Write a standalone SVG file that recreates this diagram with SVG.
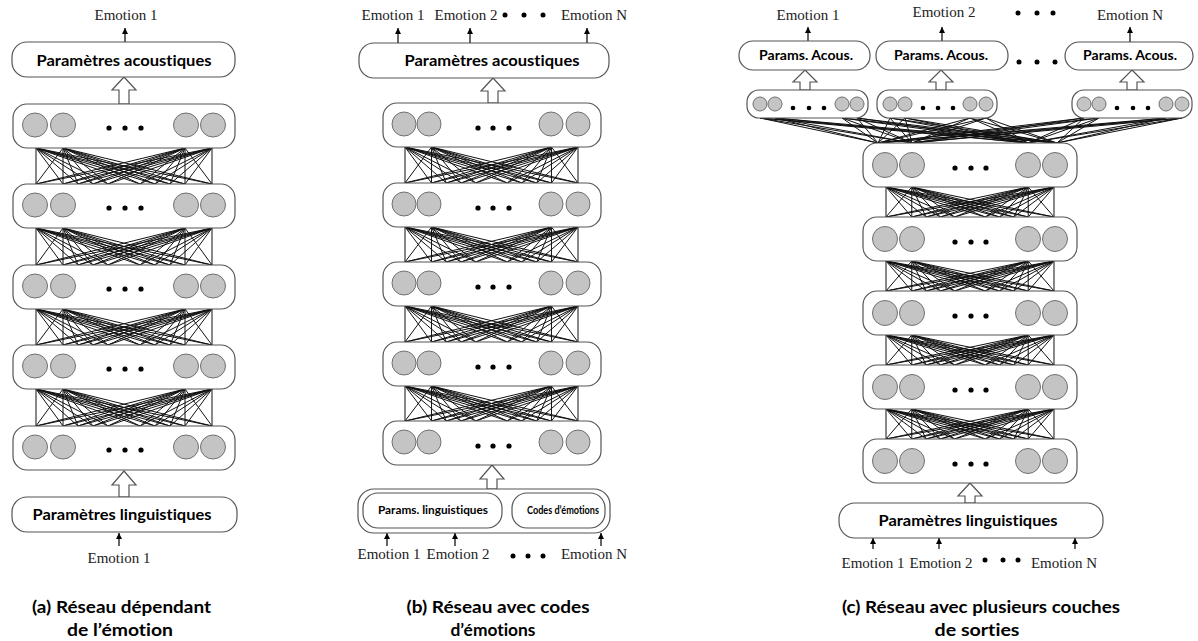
<svg xmlns="http://www.w3.org/2000/svg" width="1198" height="641" viewBox="0 0 1198 641">
<defs>
<style>
.box{fill:#fff;stroke:#555;stroke-width:1.2}
.n{fill:#c4c4c4;stroke:#707070;stroke-width:1}
.d{fill:#000}
.lbl{font-family:Lato,"Open Sans","Liberation Sans",sans-serif;font-weight:bold;fill:#000;text-anchor:middle;font-variant-ligatures:none;font-feature-settings:"liga" 0,"dlig" 0}
.em{font-family:"Liberation Serif","Times New Roman",serif;font-size:15px;fill:#222;text-anchor:middle}
.cap{font-family:Lato,"Open Sans","Liberation Sans",sans-serif;font-weight:bold;font-size:17px;text-anchor:middle;fill:#000;font-variant-ligatures:none;font-feature-settings:"liga" 0,"dlig" 0}
.mesh{fill:none;stroke:#111;stroke-width:1;vector-effect:non-scaling-stroke}
.ar{stroke:#000;stroke-width:1.2;marker-end:url(#ah)}
.ha{fill:#fff;stroke:#555;stroke-width:1.2}
</style>
<marker id="ah" markerUnits="userSpaceOnUse" markerWidth="7" markerHeight="7" refX="6" refY="3" orient="auto"><path d="M0,0 L6,3 L0,6 z" fill="#000"/></marker>
<path id="mesh" class="mesh" d="M0 0L0 36M0 0L27 36M0 0L42 36M0 0L57 36M0 0L72 36M0 0L104 36M0 0L119 36M0 0L134 36M0 0L149 36M0 0L176 36M27 0L0 36M27 0L27 36M27 0L42 36M27 0L57 36M27 0L72 36M27 0L104 36M27 0L119 36M27 0L134 36M27 0L149 36M27 0L176 36M149 0L0 36M149 0L27 36M149 0L42 36M149 0L57 36M149 0L72 36M149 0L104 36M149 0L119 36M149 0L134 36M149 0L149 36M149 0L176 36M176 0L0 36M176 0L27 36M176 0L42 36M176 0L57 36M176 0L72 36M176 0L104 36M176 0L119 36M176 0L134 36M176 0L149 36M176 0L176 36"/>
</defs>
<rect width="1198" height="641" fill="#fff"/>

<g id="connectors">
  <!-- panel a -->
  <use href="#mesh" transform="translate(36,148) scale(1,1)"/>
  <use href="#mesh" transform="translate(36,228) scale(1,1.028)"/>
  <use href="#mesh" transform="translate(36,309) scale(1,1)"/>
  <use href="#mesh" transform="translate(36,389) scale(1,1.028)"/>
  <line class="ar" x1="125" y1="42" x2="125" y2="28"/>
  <line class="ar" x1="119" y1="546" x2="119" y2="533"/>
  <polygon class="ha" points="124,77 136,90 129,90 129,104 119,104 119,90 112,90"/>
  <polygon class="ha" points="124,471 136,485 129,485 129,497 119,497 119,485 112,485"/>
  <!-- panel b -->
  <use href="#mesh" transform="translate(405,147) scale(0.983,1)"/>
  <use href="#mesh" transform="translate(405,227) scale(0.983,0.972)"/>
  <use href="#mesh" transform="translate(405,306) scale(0.983,1)"/>
  <use href="#mesh" transform="translate(405,386) scale(0.983,0.972)"/>
  <line class="ar" x1="398" y1="43" x2="398" y2="28"/>
  <line class="ar" x1="470" y1="43" x2="470" y2="28"/>
  <line class="ar" x1="587" y1="43" x2="587" y2="28"/>
  <line class="ar" x1="387" y1="546" x2="387" y2="533"/>
  <line class="ar" x1="455" y1="546" x2="455" y2="533"/>
  <line class="ar" x1="601" y1="546" x2="601" y2="533"/>
  <polygon class="ha" points="493,78 505,91 498,91 498,103 488,103 488,91 481,91"/>
  <polygon class="ha" points="492,465 504,479 497,479 497,489 487,489 487,479 480,479"/>
  <!-- panel c -->
  <use href="#mesh" transform="translate(886,187) scale(0.9545,0.833)"/>
  <use href="#mesh" transform="translate(886,261) scale(0.9545,0.833)"/>
  <use href="#mesh" transform="translate(886,335) scale(0.9545,0.833)"/>
  <use href="#mesh" transform="translate(886,409) scale(0.9545,0.833)"/>
  <path class="mesh" d="M760 118L878 143M760 118L912 143M760 118L1028 143M760 118L1057 143M775 118L878 143M775 118L912 143M775 118L1028 143M775 118L1057 143M842 118L878 143M842 118L912 143M842 118L1028 143M842 118L1057 143M857 118L878 143M857 118L912 143M857 118L1028 143M857 118L1057 143M890 118L878 143M890 118L912 143M890 118L1028 143M890 118L1057 143M905 118L878 143M905 118L912 143M905 118L1028 143M905 118L1057 143M970 118L878 143M970 118L912 143M970 118L1028 143M970 118L1057 143M986 118L878 143M986 118L912 143M986 118L1028 143M986 118L1057 143M1084 118L878 143M1084 118L912 143M1084 118L1028 143M1084 118L1057 143M1099 118L878 143M1099 118L912 143M1099 118L1028 143M1099 118L1057 143M1166 118L878 143M1166 118L912 143M1166 118L1028 143M1166 118L1057 143M1182 118L878 143M1182 118L912 143M1182 118L1028 143M1182 118L1057 143"/>
  <line class="ar" x1="808" y1="41" x2="808" y2="27"/>
  <line class="ar" x1="942" y1="41" x2="942" y2="27"/>
  <line class="ar" x1="1130" y1="42" x2="1130" y2="27"/>
  <line class="ar" x1="873" y1="549" x2="873" y2="538"/>
  <line class="ar" x1="939" y1="549" x2="939" y2="538"/>
  <line class="ar" x1="1075" y1="549" x2="1075" y2="538"/>
  <polygon class="ha" points="805,70 817,82 810,82 810,90 800,90 800,82 793,82"/>
  <polygon class="ha" points="941,70 953,82 946,82 946,90 936,90 936,82 929,82"/>
  <polygon class="ha" points="1132,70 1144,82 1137,82 1137,90 1127,90 1127,82 1120,82"/>
  <polygon class="ha" points="970,483 982,496 975,496 975,503 965,503 965,496 958,496"/>
</g>

<!-- ===== Panel (a) ===== -->
<g id="a-out-label"><text class="em" x="126" y="20">Emotion 1</text></g>
<g id="a-acoustic"><rect class="box" x="12" y="42" width="223" height="35" rx="15"/><text class="lbl" x="124" y="66" font-size="16" textLength="175" lengthAdjust="spacingAndGlyphs">Paramètres acoustiques</text></g>
<g id="a-layer1"><rect class="box" x="13" y="104" width="222" height="44" rx="14"/><ellipse class="n" cx="35" cy="125" rx="12.5" ry="12"/><ellipse class="n" cx="63" cy="125" rx="12.5" ry="12"/><ellipse class="n" cx="186" cy="125" rx="12.5" ry="12"/><ellipse class="n" cx="213" cy="125" rx="12.5" ry="12"/><circle class="d" cx="109" cy="128" r="2.6"/><circle class="d" cx="125" cy="128" r="2.6"/><circle class="d" cx="141" cy="128" r="2.6"/></g>
<g id="a-layer2"><rect class="box" x="13" y="184" width="222" height="44" rx="14"/><ellipse class="n" cx="35" cy="205" rx="12.5" ry="12"/><ellipse class="n" cx="63" cy="205" rx="12.5" ry="12"/><ellipse class="n" cx="186" cy="205" rx="12.5" ry="12"/><ellipse class="n" cx="213" cy="205" rx="12.5" ry="12"/><circle class="d" cx="109" cy="208" r="2.6"/><circle class="d" cx="125" cy="208" r="2.6"/><circle class="d" cx="141" cy="208" r="2.6"/></g>
<g id="a-layer3"><rect class="box" x="13" y="265" width="222" height="44" rx="14"/><ellipse class="n" cx="35" cy="286" rx="12.5" ry="12"/><ellipse class="n" cx="63" cy="286" rx="12.5" ry="12"/><ellipse class="n" cx="186" cy="286" rx="12.5" ry="12"/><ellipse class="n" cx="213" cy="286" rx="12.5" ry="12"/><circle class="d" cx="109" cy="289" r="2.6"/><circle class="d" cx="125" cy="289" r="2.6"/><circle class="d" cx="141" cy="289" r="2.6"/></g>
<g id="a-layer4"><rect class="box" x="13" y="345" width="222" height="44" rx="14"/><ellipse class="n" cx="35" cy="366" rx="12.5" ry="12"/><ellipse class="n" cx="63" cy="366" rx="12.5" ry="12"/><ellipse class="n" cx="186" cy="366" rx="12.5" ry="12"/><ellipse class="n" cx="213" cy="366" rx="12.5" ry="12"/><circle class="d" cx="109" cy="369" r="2.6"/><circle class="d" cx="125" cy="369" r="2.6"/><circle class="d" cx="141" cy="369" r="2.6"/></g>
<g id="a-layer5"><rect class="box" x="13" y="426" width="222" height="44" rx="14"/><ellipse class="n" cx="35" cy="447" rx="12.5" ry="12"/><ellipse class="n" cx="63" cy="447" rx="12.5" ry="12"/><ellipse class="n" cx="186" cy="447" rx="12.5" ry="12"/><ellipse class="n" cx="213" cy="447" rx="12.5" ry="12"/><circle class="d" cx="109" cy="450" r="2.6"/><circle class="d" cx="125" cy="450" r="2.6"/><circle class="d" cx="141" cy="450" r="2.6"/></g>
<g id="a-linguistic"><rect class="box" x="12" y="497" width="225" height="35" rx="15"/><text class="lbl" x="122" y="520" font-size="16" textLength="179" lengthAdjust="spacingAndGlyphs">Paramètres linguistiques</text></g>
<g id="a-in-label"><text class="em" x="119" y="563">Emotion 1</text></g>
<g id="a-caption"><text class="cap" x="121.5" y="613" textLength="179" lengthAdjust="spacingAndGlyphs">(a) Réseau dépendant</text><text class="cap" x="120" y="636" textLength="106" lengthAdjust="spacingAndGlyphs">de l’émotion</text></g>

<!-- ===== Panel (b) ===== -->
<g id="b-out-labels"><text class="em" x="393" y="20">Emotion 1</text><text class="em" x="466" y="20">Emotion 2</text><circle class="d" cx="505" cy="15" r="2.5"/><circle class="d" cx="524" cy="15" r="2.5"/><circle class="d" cx="543" cy="15" r="2.5"/><text class="em" x="594" y="20">Emotion N</text></g>
<g id="b-acoustic"><rect class="box" x="359" y="43" width="250" height="35" rx="15"/><text class="lbl" x="492" y="66" font-size="16" textLength="175" lengthAdjust="spacingAndGlyphs">Paramètres acoustiques</text></g>
<g id="b-layer1"><rect class="box" x="383" y="103" width="218" height="44" rx="14"/><circle class="n" cx="404" cy="124" r="12"/><circle class="n" cx="429" cy="124" r="12"/><circle class="n" cx="551" cy="124" r="12"/><circle class="n" cx="578" cy="124" r="12"/><circle class="d" cx="478" cy="128" r="2.6"/><circle class="d" cx="493" cy="128" r="2.6"/><circle class="d" cx="509" cy="128" r="2.6"/></g>
<g id="b-layer2"><rect class="box" x="383" y="183" width="218" height="44" rx="14"/><circle class="n" cx="404" cy="204" r="12"/><circle class="n" cx="429" cy="204" r="12"/><circle class="n" cx="551" cy="204" r="12"/><circle class="n" cx="578" cy="204" r="12"/><circle class="d" cx="478" cy="208" r="2.6"/><circle class="d" cx="493" cy="208" r="2.6"/><circle class="d" cx="509" cy="208" r="2.6"/></g>
<g id="b-layer3"><rect class="box" x="383" y="262" width="218" height="44" rx="14"/><circle class="n" cx="404" cy="283" r="12"/><circle class="n" cx="429" cy="283" r="12"/><circle class="n" cx="551" cy="283" r="12"/><circle class="n" cx="578" cy="283" r="12"/><circle class="d" cx="478" cy="287" r="2.6"/><circle class="d" cx="493" cy="287" r="2.6"/><circle class="d" cx="509" cy="287" r="2.6"/></g>
<g id="b-layer4"><rect class="box" x="383" y="342" width="218" height="44" rx="14"/><circle class="n" cx="404" cy="363" r="12"/><circle class="n" cx="429" cy="363" r="12"/><circle class="n" cx="551" cy="363" r="12"/><circle class="n" cx="578" cy="363" r="12"/><circle class="d" cx="478" cy="367" r="2.6"/><circle class="d" cx="493" cy="367" r="2.6"/><circle class="d" cx="509" cy="367" r="2.6"/></g>
<g id="b-layer5"><rect class="box" x="383" y="421" width="218" height="44" rx="14"/><circle class="n" cx="404" cy="442" r="12"/><circle class="n" cx="429" cy="442" r="12"/><circle class="n" cx="551" cy="442" r="12"/><circle class="n" cx="578" cy="442" r="12"/><circle class="d" cx="478" cy="446" r="2.6"/><circle class="d" cx="493" cy="446" r="2.6"/><circle class="d" cx="509" cy="446" r="2.6"/></g>
<g id="b-input"><rect class="box" x="358" y="489" width="252" height="44" rx="16"/></g>
<g id="b-linguistic"><rect class="box" x="363" y="493" width="139" height="35" rx="15"/><text class="lbl" x="433" y="514" font-size="12" textLength="110" lengthAdjust="spacingAndGlyphs">Params. linguistiques</text></g>
<g id="b-codes"><rect class="box" x="512" y="493" width="93" height="35" rx="15"/><text class="lbl" x="563" y="514" font-size="11.5" textLength="72" lengthAdjust="spacingAndGlyphs">Codes d’émotions</text></g>
<g id="b-in-labels"><text class="em" x="389" y="559">Emotion 1</text><text class="em" x="458" y="559">Emotion 2</text><circle class="d" cx="513" cy="556" r="2.5"/><circle class="d" cx="528" cy="556" r="2.5"/><circle class="d" cx="543" cy="556" r="2.5"/><text class="em" x="594" y="559">Emotion N</text></g>
<g id="b-caption"><text class="cap" x="498" y="613" textLength="183" lengthAdjust="spacingAndGlyphs">(b) Réseau avec codes</text><text class="cap" x="493" y="636" textLength="85" lengthAdjust="spacingAndGlyphs">d’émotions</text></g>

<!-- ===== Panel (c) ===== -->
<g id="c-out-labels"><text class="em" x="808" y="20">Emotion 1</text><text class="em" x="944" y="17">Emotion 2</text><circle class="d" cx="1018" cy="13" r="2.5"/><circle class="d" cx="1037" cy="13" r="2.5"/><circle class="d" cx="1053" cy="13" r="2.5"/><text class="em" x="1130" y="20">Emotion N</text></g>
<g id="c-acoustic1"><rect class="box" x="739" y="41" width="131" height="29" rx="14"/><text class="lbl" x="806" y="60" font-size="14" textLength="94" lengthAdjust="spacingAndGlyphs">Params. Acous.</text></g>
<g id="c-acoustic2"><rect class="box" x="876" y="41" width="132" height="29" rx="14"/><text class="lbl" x="941" y="60" font-size="14" textLength="94" lengthAdjust="spacingAndGlyphs">Params. Acous.</text></g>
<g id="c-dots-mid"><circle class="d" cx="1019" cy="62" r="2.5"/><circle class="d" cx="1037" cy="62" r="2.5"/><circle class="d" cx="1055" cy="62" r="2.5"/></g>
<g id="c-acoustic3"><rect class="box" x="1065" y="42" width="128" height="28" rx="14"/><text class="lbl" x="1130" y="60" font-size="14" textLength="94" lengthAdjust="spacingAndGlyphs">Params. Acous.</text></g>
<g id="c-out1"><rect class="box" x="747" y="90" width="121" height="28" rx="12"/><circle class="n" cx="760" cy="104" r="7"/><circle class="n" cx="775" cy="104" r="7"/><circle class="n" cx="842" cy="104" r="7"/><circle class="n" cx="857" cy="104" r="7"/><circle class="d" cx="793" cy="108" r="2.3"/><circle class="d" cx="809" cy="108" r="2.3"/><circle class="d" cx="824" cy="108" r="2.3"/></g>
<g id="c-out2"><rect class="box" x="877" y="90" width="120" height="28" rx="12"/><circle class="n" cx="890" cy="104" r="7"/><circle class="n" cx="905" cy="104" r="7"/><circle class="n" cx="970" cy="104" r="7"/><circle class="n" cx="986" cy="104" r="7"/><circle class="d" cx="923" cy="108" r="2.3"/><circle class="d" cx="938" cy="108" r="2.3"/><circle class="d" cx="953" cy="108" r="2.3"/></g>
<g id="c-out3"><rect class="box" x="1072" y="90" width="120" height="28" rx="12"/><circle class="n" cx="1084" cy="104" r="7"/><circle class="n" cx="1099" cy="104" r="7"/><circle class="n" cx="1166" cy="104" r="7"/><circle class="n" cx="1182" cy="104" r="7"/><circle class="d" cx="1117" cy="108" r="2.3"/><circle class="d" cx="1133" cy="108" r="2.3"/><circle class="d" cx="1148" cy="108" r="2.3"/></g>
<g id="c-layer1"><rect class="box" x="863" y="143" width="214" height="44" rx="14"/><circle class="n" cx="885" cy="165" r="12.5"/><circle class="n" cx="912" cy="165" r="12.5"/><circle class="n" cx="1028" cy="165" r="12.5"/><circle class="n" cx="1055" cy="165" r="12.5"/><circle class="d" cx="955" cy="168" r="2.6"/><circle class="d" cx="971" cy="168" r="2.6"/><circle class="d" cx="986" cy="168" r="2.6"/></g>
<g id="c-layer2"><rect class="box" x="863" y="217" width="214" height="44" rx="14"/><circle class="n" cx="885" cy="239" r="12.5"/><circle class="n" cx="912" cy="239" r="12.5"/><circle class="n" cx="1028" cy="239" r="12.5"/><circle class="n" cx="1055" cy="239" r="12.5"/><circle class="d" cx="955" cy="242" r="2.6"/><circle class="d" cx="971" cy="242" r="2.6"/><circle class="d" cx="986" cy="242" r="2.6"/></g>
<g id="c-layer3"><rect class="box" x="863" y="291" width="214" height="44" rx="14"/><circle class="n" cx="885" cy="313" r="12.5"/><circle class="n" cx="912" cy="313" r="12.5"/><circle class="n" cx="1028" cy="313" r="12.5"/><circle class="n" cx="1055" cy="313" r="12.5"/><circle class="d" cx="955" cy="316" r="2.6"/><circle class="d" cx="971" cy="316" r="2.6"/><circle class="d" cx="986" cy="316" r="2.6"/></g>
<g id="c-layer4"><rect class="box" x="863" y="365" width="214" height="44" rx="14"/><circle class="n" cx="885" cy="387" r="12.5"/><circle class="n" cx="912" cy="387" r="12.5"/><circle class="n" cx="1028" cy="387" r="12.5"/><circle class="n" cx="1055" cy="387" r="12.5"/><circle class="d" cx="955" cy="390" r="2.6"/><circle class="d" cx="971" cy="390" r="2.6"/><circle class="d" cx="986" cy="390" r="2.6"/></g>
<g id="c-layer5"><rect class="box" x="863" y="439" width="214" height="44" rx="14"/><circle class="n" cx="885" cy="461" r="12.5"/><circle class="n" cx="912" cy="461" r="12.5"/><circle class="n" cx="1028" cy="461" r="12.5"/><circle class="n" cx="1055" cy="461" r="12.5"/><circle class="d" cx="955" cy="464" r="2.6"/><circle class="d" cx="971" cy="464" r="2.6"/><circle class="d" cx="986" cy="464" r="2.6"/></g>
<g id="c-linguistic"><rect class="box" x="839" y="503" width="264" height="35" rx="16"/><text class="lbl" x="968" y="526" font-size="16" textLength="179" lengthAdjust="spacingAndGlyphs">Paramètres linguistiques</text></g>
<g id="c-in-labels"><text class="em" x="873" y="568">Emotion 1</text><text class="em" x="941" y="568">Emotion 2</text><circle class="d" cx="985" cy="560" r="2.5"/><circle class="d" cx="1003" cy="560" r="2.5"/><circle class="d" cx="1018" cy="560" r="2.5"/><text class="em" x="1064" y="568">Emotion N</text></g>
<g id="c-caption"><text class="cap" x="981" y="613" textLength="278" lengthAdjust="spacingAndGlyphs">(c) Réseau avec plusieurs couches</text><text class="cap" x="977" y="636" textLength="85" lengthAdjust="spacingAndGlyphs">de sorties</text></g>
</svg>
